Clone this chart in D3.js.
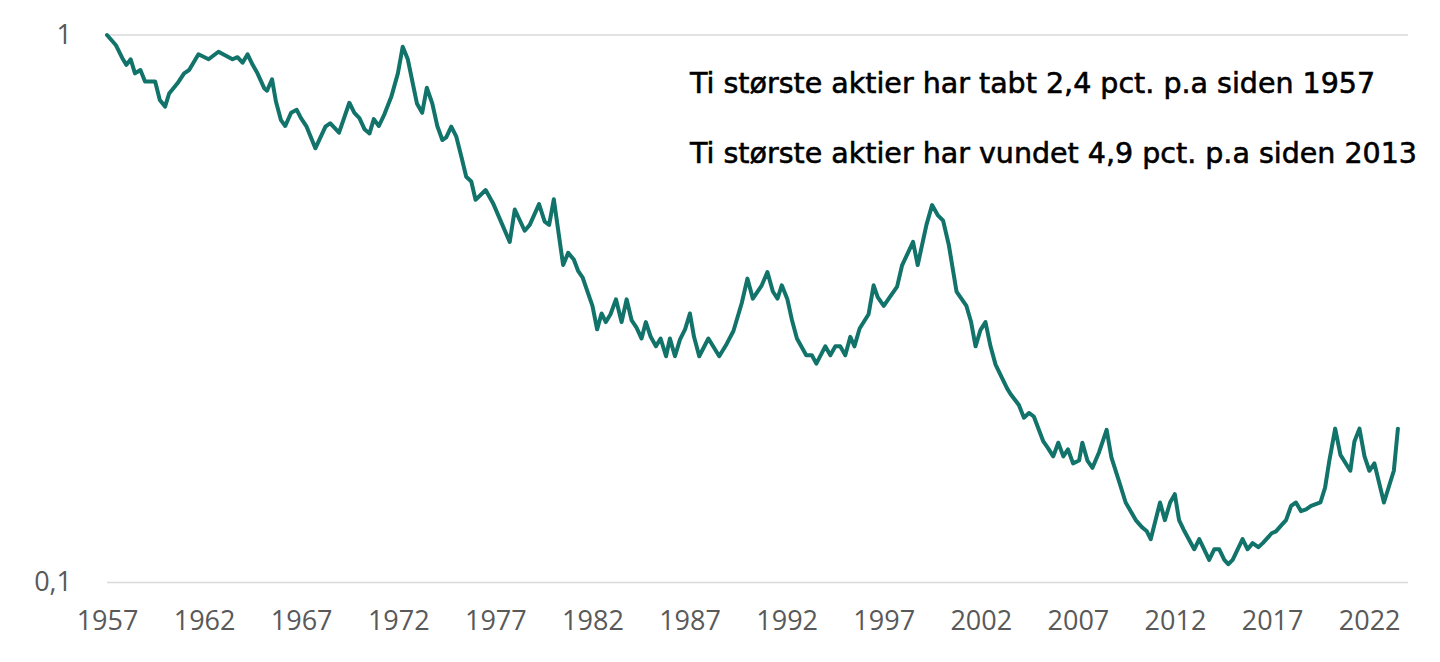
<!DOCTYPE html>
<html>
<head>
<meta charset="utf-8">
<script src="https://cdn.jsdelivr.net/npm/d3@7"></script>
<style>
  body { margin: 0; background: #fff; }
  svg { display: block; }
</style>
</head>
<body>
<svg id="chart"></svg>
<script>
// index value, start 1957 = 1 (log scale)
const years = [
  1957.00, 1957.45, 1957.79, 1958.00, 1958.22, 1958.44, 1958.72, 1958.96, 1959.48, 1959.72,
  1959.99, 1960.20, 1960.63, 1960.97, 1961.23, 1961.71, 1962.23, 1962.74, 1963.46, 1963.72,
  1963.98, 1964.24, 1964.50, 1964.75, 1965.10, 1965.24, 1965.50, 1965.70, 1965.96, 1966.18,
  1966.48, 1966.77, 1966.99, 1967.28, 1967.73, 1968.25, 1968.49, 1968.95, 1969.48, 1969.74,
  1970.00, 1970.26, 1970.52, 1970.74, 1971.00, 1971.29, 1971.64, 1971.98, 1972.23, 1972.49,
  1972.96, 1973.23, 1973.47, 1973.75, 1974.01, 1974.27, 1974.47, 1974.73, 1974.99, 1975.25,
  1975.50, 1975.76, 1975.98, 1976.50, 1976.88, 1977.74, 1978.00, 1978.51, 1978.77, 1979.25,
  1979.54, 1979.77, 1980.01, 1980.49, 1980.75, 1981.04, 1981.26, 1981.49, 1981.78, 1982.00,
  1982.24, 1982.47, 1982.69, 1982.93, 1983.21, 1983.50, 1983.76, 1984.02, 1984.27, 1984.53,
  1984.75, 1985.00, 1985.27, 1985.51, 1985.79, 1985.99, 1986.25, 1986.51, 1986.77, 1987.02,
  1987.23, 1987.50, 1987.97, 1988.53, 1988.92, 1989.26, 1989.69, 1989.98, 1990.26, 1990.72,
  1991.01, 1991.29, 1991.53, 1991.75, 1992.04, 1992.27, 1992.53, 1993.01, 1993.30, 1993.53,
  1993.99, 1994.25, 1994.51, 1994.76, 1995.02, 1995.28, 1995.49, 1995.76, 1996.22, 1996.48,
  1996.69, 1997.00, 1997.34, 1997.69, 1997.94, 1998.51, 1998.75, 1999.20, 1999.49, 1999.78,
  2000.06, 2000.35, 2000.75, 2001.26, 2001.50, 2001.73, 2001.98, 2002.24, 2002.50, 2002.76,
  2003.36, 2003.53, 2003.96, 2004.22, 2004.48, 2004.73, 2005.22, 2005.46, 2005.73, 2005.99,
  2006.25, 2006.49, 2006.75, 2007.06, 2007.23, 2007.49, 2007.75, 2008.09, 2008.48, 2008.73,
  2009.12, 2009.46, 2009.98, 2010.32, 2010.55, 2010.75, 2011.23, 2011.48, 2011.75, 2011.99,
  2012.21, 2012.44, 2012.99, 2013.25, 2013.76, 2014.02, 2014.28, 2014.54, 2014.74, 2014.97,
  2015.48, 2015.74, 2016.00, 2016.29, 2016.52, 2016.98, 2017.20, 2017.46, 2017.72, 2017.98,
  2018.23, 2018.49, 2018.75, 2019.01, 2019.49, 2019.73, 2019.95, 2020.25, 2020.52, 2021.03,
  2021.24, 2021.50, 2021.76, 2022.01, 2022.27, 2022.76, 2023.27, 2023.48
];

const values = [
  1.000, 0.959, 0.907, 0.882, 0.903, 0.851, 0.863, 0.822, 0.822, 0.761,
  0.740, 0.782, 0.816, 0.851, 0.863, 0.922, 0.903, 0.932, 0.903, 0.911,
  0.890, 0.922, 0.882, 0.851, 0.799, 0.791, 0.830, 0.756, 0.699, 0.682,
  0.721, 0.730, 0.705, 0.680, 0.621, 0.680, 0.690, 0.663, 0.752, 0.721,
  0.705, 0.673, 0.661, 0.702, 0.682, 0.717, 0.771, 0.851, 0.952, 0.903,
  0.750, 0.721, 0.801, 0.750, 0.682, 0.643, 0.650, 0.680, 0.652, 0.599,
  0.551, 0.540, 0.500, 0.521, 0.493, 0.419, 0.480, 0.439, 0.450, 0.491,
  0.456, 0.450, 0.501, 0.380, 0.400, 0.389, 0.371, 0.361, 0.337, 0.320,
  0.290, 0.310, 0.299, 0.309, 0.329, 0.299, 0.329, 0.301, 0.292, 0.279,
  0.299, 0.281, 0.270, 0.279, 0.259, 0.279, 0.259, 0.278, 0.290, 0.310,
  0.281, 0.259, 0.279, 0.259, 0.273, 0.288, 0.324, 0.359, 0.330, 0.349,
  0.369, 0.340, 0.330, 0.349, 0.329, 0.302, 0.279, 0.260, 0.260, 0.251,
  0.270, 0.260, 0.270, 0.270, 0.260, 0.281, 0.270, 0.291, 0.309, 0.349,
  0.332, 0.320, 0.333, 0.347, 0.379, 0.419, 0.380, 0.450, 0.489, 0.469,
  0.458, 0.414, 0.340, 0.320, 0.299, 0.270, 0.289, 0.299, 0.270, 0.250,
  0.226, 0.221, 0.211, 0.200, 0.204, 0.201, 0.181, 0.176, 0.170, 0.180,
  0.170, 0.175, 0.165, 0.167, 0.180, 0.167, 0.162, 0.173, 0.190, 0.169,
  0.153, 0.140, 0.130, 0.126, 0.124, 0.120, 0.140, 0.130, 0.140, 0.145,
  0.130, 0.125, 0.115, 0.120, 0.110, 0.115, 0.115, 0.110, 0.108, 0.110,
  0.120, 0.115, 0.118, 0.116, 0.118, 0.123, 0.124, 0.127, 0.130, 0.138,
  0.140, 0.135, 0.136, 0.138, 0.140, 0.149, 0.167, 0.191, 0.171, 0.160,
  0.181, 0.191, 0.170, 0.160, 0.165, 0.140, 0.160, 0.191
];

const xTicks = [1957, 1962, 1967, 1972, 1977, 1982, 1987, 1992, 1997, 2002, 2007, 2012, 2017, 2022];
const yTicks = [0.1, 1];
const yTickLabels = ["0,1", "1"];

const notes = [
  "Ti største aktier har tabt 2,4 pct. p.a siden 1957",
  "Ti største aktier har vundet 4,9 pct. p.a siden 2013"
];

const width = 1440;
const height = 662;
const margin = { top: 35, right: 32, bottom: 79.5, left: 107 };

const data = years.map((d, i) => ({ year: d, value: values[i] }));

const svg = d3.select("#chart")
  .attr("width", width)
  .attr("height", height);

const x = d3.scaleLinear()
  .domain([1957, 2024])
  .range([margin.left, width - margin.right]);

const y = d3.scaleLog()
  .domain([0.1, 1])
  .range([height - margin.bottom, margin.top]);

// gridlines
svg.append("g")
  .selectAll("line")
  .data(yTicks)
  .join("line")
  .attr("x1", margin.left)
  .attr("x2", width - margin.right)
  .attr("y1", d => y(d))
  .attr("y2", d => y(d))
  .attr("stroke", "#d9d9d9")
  .attr("stroke-width", 1.5);

// y labels
const yAxis = g =>
  g.attr("transform", `translate(${margin.left},0)`)
    .call(d3.axisLeft(y).tickValues(yTicks).tickSize(0).tickPadding(35)
      .tickFormat((d, i) => yTickLabels[i]))
    .call(g => g.select(".domain").remove())
    .call(g => g.selectAll("text")
      .attr("fill", "#595959")
      .attr("font-family", "'Open Sans', sans-serif")
      .attr("font-size", 27)
      .attr("dy", "0.3em"));

// x labels
const xAxis = g =>
  g.attr("transform", `translate(0,${height - margin.bottom})`)
    .call(d3.axisBottom(x).tickValues(xTicks).tickSize(0).tickPadding(28)
      .tickFormat(d3.format("d")))
    .call(g => g.select(".domain").remove())
    .call(g => g.selectAll("text")
      .attr("fill", "#595959")
      .attr("font-family", "'Open Sans', sans-serif")
      .attr("font-size", 27));

svg.append("g").call(yAxis);
svg.append("g").call(xAxis);

const line = d3.line()
  .x(d => x(d.year))
  .y(d => y(d.value));

svg.append("path")
  .datum(data)
  .attr("fill", "none")
  .attr("stroke", "#11736a")
  .attr("stroke-width", 4)
  .attr("stroke-linejoin", "round")
  .attr("stroke-linecap", "round")
  .attr("d", line);

// annotation text, a touch heavier than DejaVu Book
svg.append("g")
  .selectAll("text")
  .data(notes)
  .join("text")
  .attr("x", 690)
  .attr("y", (d, i) => 93 + i * 70)
  .attr("font-family", "'DejaVu Sans', sans-serif")
  .attr("font-size", 28.5)
  .attr("fill", "#000")
  .attr("stroke", "#000")
  .attr("stroke-width", 0.6)
  .text(d => d);
</script>
</body>
</html>
